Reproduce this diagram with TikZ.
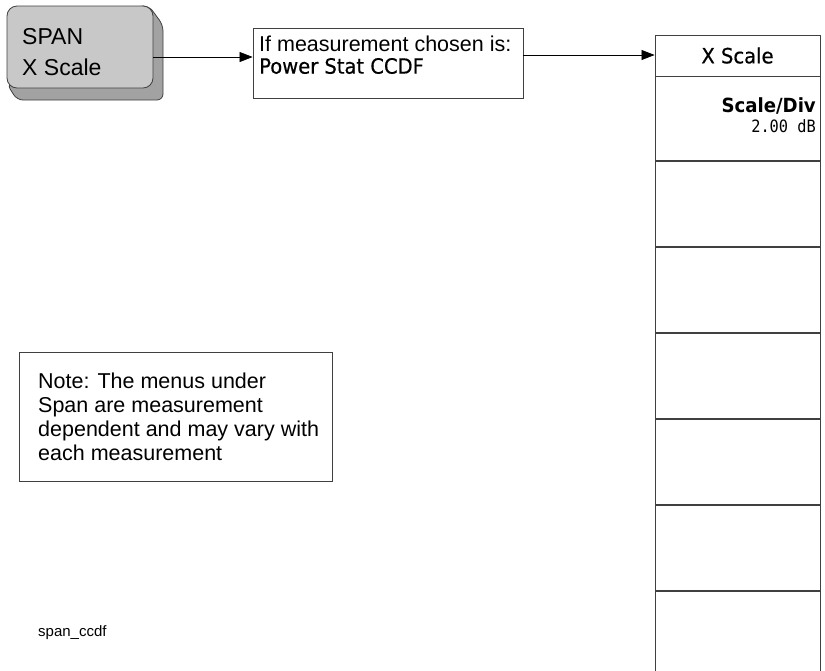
\documentclass[tikz,border=0pt]{standalone}
\usepackage{fontspec}
\setmainfont{Liberation Sans}
\newfontfamily\hpfont[FakeStretch=0.93, FakeBold=0.6]{DejaVu Sans}
\newfontfamily\hpbold[FakeStretch=0.93]{DejaVu Sans Bold}
\newfontfamily\hpmono[FakeStretch=0.9]{DejaVu Sans Mono}
\usetikzlibrary{arrows.meta}
\definecolor{keyface}{HTML}{C8C8C8}
\definecolor{keyside}{HTML}{A2A2A2}
\definecolor{rim}{HTML}{404040}
\tikzset{
  keyfront/.style={draw=rim, fill=keyface, rounded corners=10pt, line width=0.8pt,
    minimum width=146pt, minimum height=82pt, inner sep=0pt},
  plainbox/.style={draw=rim, fill=white, line width=0.8pt, inner sep=0pt},
  flow/.style={draw=black, line width=0.7pt, -{Triangle[length=13pt,width=10pt]}},
  softkey/.style={draw=rim, fill=white, line width=0.9pt, minimum width=165pt, inner sep=0pt},
  hptext/.style={inner sep=0pt, font=\hpfont\fontsize{21}{22}\selectfont},
  notetext/.style={font=\fontsize{21.5}{24}\selectfont, align=left, anchor=north west, inner sep=0pt}
}
\begin{document}
\begin{tikzpicture}[x=1pt, y=-1pt]
\useasboundingbox (0,0) rectangle (825,670);

% hardkey with its bevelled shadow
\filldraw[draw=rim, fill=keyside, line width=0.8pt, rounded corners=6pt]
  (138,6) -- (149,6) -- (163,25) -- (163,100) -- (17,100) -- (7,84) -- cycle;
\node[keyfront] (span) at (80,47) {};
\node[anchor=west, align=left, inner sep=0pt, font=\fontsize{23}{31}\selectfont] (spanlbl) at (22,52.5) {SPAN\\X Scale};

% measurement condition box
\node[plainbox, minimum width=270pt, minimum height=70pt] (cond) at (388,63) {};
\node[anchor=west, inner sep=0pt, font=\fontsize{21.5}{22}\selectfont] (condA) at (259,44) {If measurement chosen is:};
\node[hptext, anchor=west] (condB) at (259,66) {Power Stat CCDF};

% softkey menu column
\node[softkey, minimum height=41pt] (hdr) at (737.5,55.5) {};
\node[hptext] (hdrlbl) at (hdr.center) {X Scale};
\node[softkey, minimum height=84pt, anchor=north] (k1) at (hdr.south) {};
\node[softkey, minimum height=85pt, anchor=north] (k2) at (k1.south) {};
\node[softkey, minimum height=85pt, anchor=north] (k3) at (k2.south) {};
\node[softkey, minimum height=85pt, anchor=north] (k4) at (k3.south) {};
\node[softkey, minimum height=85pt, anchor=north] (k5) at (k4.south) {};
\node[softkey, minimum height=85pt, anchor=north] (k6) at (k5.south) {};
\node[softkey, minimum height=80pt, anchor=north] (k7) at (k6.south) {};
\node[anchor=east, inner sep=0pt, font=\hpbold\fontsize{19.5}{20}\selectfont] (sdiv) at (816,106) {Scale/Div};
\node[anchor=east, inner sep=0pt, font=\hpmono\fontsize{17}{18}\selectfont] (sval) at (816,126) {2.00 dB};

% connectors
\draw[flow] (span.east |- 0,57) -- (cond.west |- 0,57);
\draw[flow] (cond.east |- 0,55) -- (hdr.west |- 0,55);

% note
\node[plainbox, minimum width=313pt, minimum height=129pt] (note) at (175.5,416.5) {};
\node[notetext] (notetxt) at (38,373) {Note: The menus under\\Span are measurement\\dependent and may vary with\\each measurement};

% drawing id
\node[anchor=west, inner sep=0pt, font=\fontsize{15}{16}\selectfont] (tag) at (38,633) {span\_ccdf};
\end{tikzpicture}
\end{document}
